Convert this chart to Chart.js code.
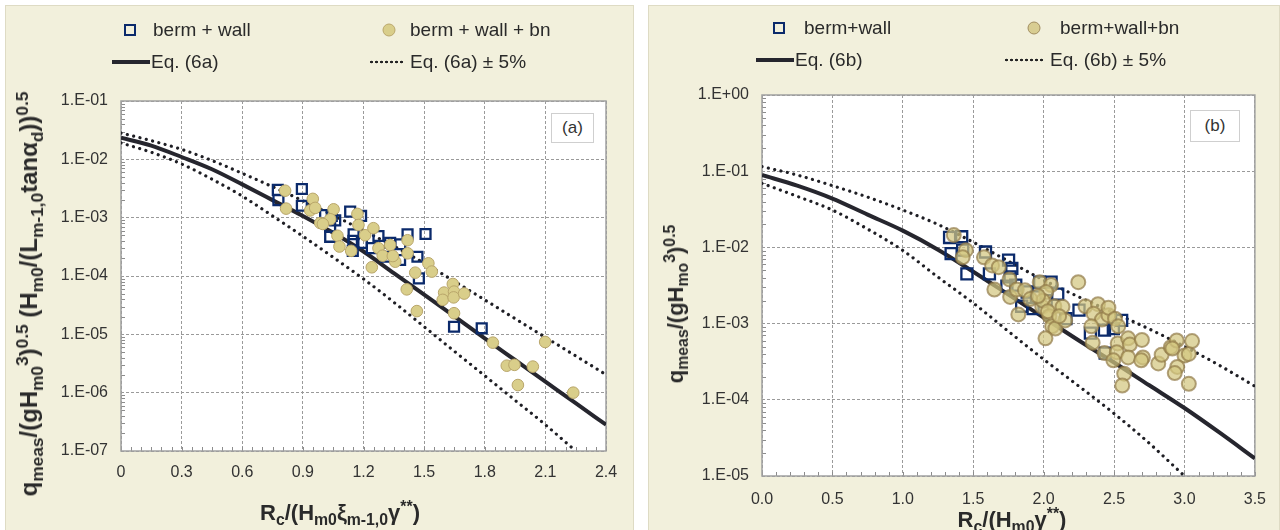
<!DOCTYPE html>
<html>
<head>
<meta charset="utf-8">
<script src="https://cdn.jsdelivr.net/npm/chart.js"></script>
<style>
body { margin: 0; width: 1280px; height: 530px; position: relative; overflow: hidden; background: #fff;
       font-family: "Liberation Sans", Arial, sans-serif; color: #2a2a2a; }
.panel { position: absolute; top: 5px; height: 530px; background: #f2f0dc; border: 1px solid #dedbc4; box-sizing: border-box; }
#pa { left: 5px; width: 629px; }
#pb { left: 648px; width: 632px; }
canvas { position: absolute; top: 0; }
#ca { left: 0; }
#cb { left: 640px; }
.leg { position: absolute; font-size: 19px; line-height: 20px; white-space: nowrap; transform: translateY(-50%); }
.sq { position: absolute; width: 8px; height: 8px; border: 2.5px solid #0b2a6b; transform: translate(-50%, -50%); }
.dot { position: absolute; border-radius: 50%; transform: translate(-50%, -50%); }
.ln { position: absolute; height: 0; transform: translateY(-50%); }
.dots { position: absolute; height: 4px; transform: translateY(-50%);
        background: radial-gradient(circle, #222 1.1px, rgba(0,0,0,0) 1.6px) repeat-x;
        background-size: 5px 4px; }
.tag { position: absolute; background: #fff; border: 1.5px solid #cfcfcf; font-size: 17px; color: #333;
       display: flex; align-items: center; justify-content: center; box-sizing: border-box; }
.ttl { position: absolute; font-weight: bold; font-size: 22px; white-space: nowrap; color: #2a2a2a;
       transform: translate(-50%, -50%); }
.rot { transform: translate(-50%, -50%) rotate(-90deg); }
.ttl sub, .ttl sup { font-size: 72%; line-height: 0; }
</style>
</head>
<body>
<div class="panel" id="pa"></div>
<div class="panel" id="pb"></div>
<canvas id="ca" width="640" height="530"></canvas>
<canvas id="cb" width="640" height="530"></canvas>

<!-- legend (a) -->
<div class="sq" style="left:130px;top:30px"></div>
<div class="leg" style="left:153px;top:30px">berm + wall</div>
<div class="dot" style="left:389px;top:30px;width:11px;height:11px;background:#d9ce8a;border:1px solid #b9a66a"></div>
<div class="leg" style="left:410px;top:30px">berm + wall + bn</div>
<div class="ln" style="left:112px;top:62px;width:38px;border-top:4px solid #26262e"></div>
<div class="leg" style="left:151px;top:62px">Eq. (6a)</div>
<div class="dots" style="left:369px;top:62px;width:35px"></div>
<div class="leg" style="left:410px;top:62px">Eq. (6a) ± 5%</div>

<!-- legend (b) -->
<div class="sq" style="left:779px;top:28px"></div>
<div class="leg" style="left:804px;top:28px">berm+wall</div>
<div class="dot" style="left:1034px;top:28px;width:11px;height:11px;background:#d8cd92;border:1.5px solid #a08c5e"></div>
<div class="leg" style="left:1060px;top:28px">berm+wall+bn</div>
<div class="ln" style="left:756px;top:60px;width:38px;border-top:4px solid #26262e"></div>
<div class="leg" style="left:795px;top:60px">Eq. (6b)</div>
<div class="dots" style="left:1004px;top:60px;width:40px"></div>
<div class="leg" style="left:1050px;top:60px">Eq. (6b) ± 5%</div>

<div class="tag" style="left:551px;top:113px;width:43px;height:30px">(a)</div>
<div class="tag" style="left:1190px;top:110px;width:50px;height:32px">(b)</div>

<div class="ttl rot" style="left:29px;top:294px;font-size:24px">q<sub>meas</sub>/(gH<sub>m0</sub><sup>3</sup>)<sup>0.5</sup> (H<sub>m0</sub>/(L<sub>m-1,0</sub>tanα<sub>d</sub>))<sup>0.5</sup></div>
<div class="ttl" style="left:340px;top:513px">R<sub>c</sub>/(H<sub>m0</sub>ξ<sub>m-1,0</sub>γ<sup>**</sup>)</div>
<div class="ttl rot" style="left:676px;top:304px">q<sub>meas</sub>/(gH<sub>mo</sub><sup>3</sup>)<sup>0.5</sup></div>
<div class="ttl" style="left:1012px;top:520px">R<sub>c</sub>/(H<sub>m0</sub>γ<sup>**</sup>)</div>

<script>
// ---- panel (a) ----
const aXTicks = [0, 0.3, 0.6, 0.9, 1.2, 1.5, 1.8, 2.1, 2.4];
const aXLabels = ['0', '0.3', '0.6', '0.9', '1.2', '1.5', '1.8', '2.1', '2.4'];
const aYTicks = [1e-7, 1e-6, 1e-5, 1e-4, 1e-3, 1e-2, 1e-1];

const aWallX = [0.776, 0.779, 0.895, 0.895, 1.010, 1.043, 1.035, 1.035, 1.134, 1.188, 1.151, 1.147,
                1.274, 1.241, 1.332, 1.312, 1.381, 1.418, 1.507, 1.467, 1.474, 1.648, 1.785,
                1.060, 1.150, 1.192, 1.382];
const aWallY = [3.0e-3, 2.0e-3, 3.1e-3, 1.6e-3, 1.11e-3, 1.07e-3, 7.0e-4, 4.7e-4, 1.27e-3, 1.07e-3, 5.2e-4, 2.7e-4,
                4.85e-4, 3.0e-4, 3.7e-4, 2.14e-4, 1.88e-4, 5.2e-4, 5.25e-4, 2.14e-4, 9.1e-5, 1.35e-5, 1.27e-5,
                9.0e-4, 4.0e-4, 3.7e-4, 3.5e-4];

const aBnX = [0.812, 0.817, 0.949, 0.936, 0.961, 0.986, 1.052, 1.035, 0.999, 1.071, 1.081, 1.139,
              1.170, 1.175, 1.208, 1.249, 1.274, 1.295, 1.332, 1.357, 1.345, 1.241, 1.418, 1.418,
              1.521, 1.538, 1.456, 1.414, 1.464, 1.642, 1.599, 1.648, 1.592, 1.646, 1.698, 1.648,
              1.840, 1.909, 1.947, 1.964, 2.038, 2.099, 2.238];
const aBnY = [2.9e-3, 1.43e-3, 2.1e-3, 1.33e-3, 1.47e-3, 8.1e-4, 1.39e-3, 9.4e-4, 7.8e-4, 4.9e-4, 3.2e-4, 2.7e-4,
              1.16e-3, 7.5e-4, 5.0e-4, 6.6e-4, 3.0e-4, 2.23e-4, 3.4e-4, 1.76e-4, 2.2e-4, 1.41e-4, 4.1e-4, 2.45e-4,
              1.65e-4, 1.19e-4, 1.14e-4, 5.9e-5, 2.5e-5, 7.3e-5, 5.2e-5, 5.4e-5, 3.9e-5, 4.3e-5, 5.0e-5, 2.3e-5,
              7.2e-6, 2.9e-6, 3.0e-6, 1.35e-6, 2.8e-6, 7.4e-6, 1.0e-6];

const aEqX = [0, 0.15, 0.3, 0.45, 0.6, 0.75, 0.9, 1.05, 1.2, 1.35, 1.5, 1.65, 1.8, 1.95, 2.1, 2.25, 2.4];
const aEq = [0.0235, 0.0172, 0.01096, 0.00676, 0.00372, 0.00200, 0.00107, 5.5e-4, 2.63e-4, 1.12e-4,
             4.79e-5, 2.04e-5, 8.5e-6, 3.63e-6, 1.55e-6, 6.6e-7, 2.82e-7];
const aEqHi = [0.0282, 0.0209, 0.0148, 0.00955, 0.00575, 0.00339, 0.00195, 0.0011, 6.0e-4, 3.24e-4,
               1.66e-4, 8.1e-5, 3.9e-5, 1.86e-5, 8.9e-6, 4.27e-6, 2.04e-6];
const aEqLo = [0.0191, 0.0132, 0.00832, 0.00457, 0.00234, 0.00107, 4.8e-4, 2.09e-4, 8.9e-5, 3.55e-5,
               1.35e-5, 5.1e-6, 1.95e-6, 7.4e-7, 2.82e-7, 1.0e-7];

// ---- panel (b) ----
const bXTicks = [0, 0.5, 1.0, 1.5, 2.0, 2.5, 3.0, 3.5];
const bXLabels = ['0.0', '0.5', '1.0', '1.5', '2.0', '2.5', '3.0', '3.5'];
const bYTicks = [1e-5, 1e-4, 1e-3, 1e-2, 1e-1, 1];

const bWallX = [1.332, 1.418, 1.343, 1.425, 1.455, 1.587, 1.615, 1.751, 1.774, 1.762, 1.739, 1.802, 1.844,
                1.925, 1.948, 1.972, 2.053, 2.100, 2.018, 1.883, 2.158, 2.251, 2.332, 2.432, 2.495, 2.554, 2.437];
const bWallY = [1.35e-2, 1.38e-2, 8.3e-3, 9.2e-3, 4.5e-3, 8.7e-3, 4.5e-3, 6.8e-3, 5.3e-3, 4.1e-3, 3.1e-3, 3.2e-3, 1.69e-3,
                1.57e-3, 2.24e-3, 3.5e-3, 3.5e-3, 2.43e-3, 2.0e-3, 2.6e-3, 1.16e-3, 1.5e-3, 7.5e-4, 8.2e-4, 8.6e-4, 1.1e-3, 4.1e-4];

const bBnX = [1.362, 1.448, 1.425, 1.576, 1.634, 1.681, 1.650, 1.757, 1.762, 1.809, 1.867, 1.820, 1.972, 2.053,
              2.246, 1.990, 2.018, 1.995, 2.076, 2.134, 2.041, 2.060, 2.083, 2.153, 2.013, 2.297, 2.386, 2.355,
              2.414, 2.460, 2.460, 2.507, 2.530, 2.339, 2.348, 2.432, 2.526, 2.519, 2.495, 2.600, 2.612, 2.600,
              2.705, 2.693, 2.698, 2.572, 2.558, 2.814, 2.838, 2.903, 2.945, 2.914, 3.000, 3.031, 2.949, 2.931,
              3.054, 3.031, 1.905, 2.030, 2.110, 1.960];
const bBnY = [1.45e-2, 9.2e-3, 7.4e-3, 7.4e-3, 5.8e-3, 5.5e-3, 2.8e-3, 3.8e-3, 2.24e-3, 2.8e-3, 2.74e-3, 1.32e-3, 3.5e-3, 3.2e-3,
              3.5e-3, 1.66e-3, 2.6e-3, 2.0e-3, 1.69e-3, 1.66e-3, 1.25e-3, 9.2e-4, 8.6e-4, 1.1e-3, 6.4e-4, 1.69e-3, 1.8e-3, 1.35e-3,
              1.13e-3, 1.29e-3, 1.62e-3, 1.16e-3, 9.2e-4, 9.2e-4, 5.6e-4, 4.1e-4, 5.5e-4, 4.2e-4, 3.3e-4, 6.4e-4, 5.3e-4, 3.6e-4,
              3.6e-4, 3.3e-4, 6.1e-4, 2.2e-4, 1.54e-4, 3.0e-4, 3.9e-4, 4.9e-4, 6.0e-4, 4.7e-4, 3.8e-4, 4.0e-4, 2.7e-4, 2.24e-4,
              5.9e-4, 1.62e-4, 2.1e-3, 1.45e-3, 1.25e-3, 2.3e-3];

const bEqX = [0, 0.25, 0.5, 0.75, 1.0, 1.25, 1.5, 1.75, 2.0, 2.25, 2.5, 2.75, 3.0, 3.25, 3.5];
const bEq = [0.0891, 0.0646, 0.0437, 0.0269, 0.0166, 0.00933, 0.00479, 0.0024, 0.0012, 6.0e-4, 3.09e-4,
             1.55e-4, 7.8e-5, 3.7e-5, 1.7e-5];
const bEqHi = [0.115, 0.0891, 0.0646, 0.0457, 0.0309, 0.02, 0.0117, 0.0066, 0.00372, 0.00224, 0.00138,
               8.5e-4, 5.0e-4, 2.82e-4, 1.51e-4];
const bEqLo = [0.0692, 0.0468, 0.0309, 0.0174, 0.00912, 0.00407, 0.00186, 7.9e-4, 3.39e-4, 1.51e-4, 6.6e-5,
               2.69e-5, 1.0e-5];

function pts(xs, ys) {
    const out = [];
    for (let i = 0; i < Math.min(xs.length, ys.length); i++) out.push({x: xs[i], y: ys[i]});
    return out;
}

function expLabel(v) {
    const e = Math.round(Math.log10(v));
    return '1.E' + (e < 0 ? '-' : '+') + String(Math.abs(e)).padStart(2, '0');
}

// white plot area, frame and the small inner ticks
const plotFrame = {
    id: 'plotFrame',
    beforeDraw(chart) {
        const a = chart.chartArea, ctx = chart.ctx;
        ctx.save();
        ctx.fillStyle = '#fff';
        ctx.fillRect(a.left, a.top, a.width, a.height);
        ctx.restore();
    },
    beforeDatasetsDraw(chart, args, opts) {
        const a = chart.chartArea, ctx = chart.ctx;
        const xs = chart.scales.x, ys = chart.scales.y;
        ctx.save();
        ctx.strokeStyle = '#8c8c8c';
        ctx.lineWidth = 1;
        ctx.beginPath();
        for (let e = Math.round(Math.log10(ys.min)); e < Math.round(Math.log10(ys.max)); e++) {
            for (let m = 2; m < 10; m++) {
                const y = Math.round(ys.getPixelForValue(m * Math.pow(10, e))) + 0.5;
                ctx.moveTo(a.left, y);
                ctx.lineTo(a.left + 4, y);
            }
        }
        for (let v = xs.min; v <= xs.max + 1e-9; v += opts.xMinor) {
            const x = Math.round(xs.getPixelForValue(v)) + 0.5;
            ctx.moveTo(x, a.bottom);
            ctx.lineTo(x, a.bottom - 4);
        }
        ctx.stroke();
        ctx.strokeStyle = '#a0a0a0';
        ctx.lineWidth = 1.5;
        ctx.strokeRect(a.left, a.top, a.width, a.height);
        ctx.restore();
    }
};

function makePanel(id, p) {
    return new Chart(document.getElementById(id), {
        type: 'scatter',
        data: {
            datasets: [
                {
                    label: p.wallLabel, data: pts(p.wallX, p.wallY), order: 1,
                    pointStyle: 'rect', pointRadius: p.sqR, borderColor: '#0b2a6b',
                    backgroundColor: 'rgba(0,0,0,0)', borderWidth: 2.3
                },
                {
                    label: p.bnLabel, data: pts(p.bnX, p.bnY), order: 0,
                    pointStyle: 'circle', pointRadius: p.dotR, borderColor: p.dotEdge,
                    backgroundColor: p.dotFill, borderWidth: p.dotW
                },
                {
                    label: p.eqLabel, data: pts(p.eqX, p.eq), order: 2, showLine: true,
                    pointRadius: 0, borderColor: '#26262e', borderWidth: 4,
                    cubicInterpolationMode: 'monotone'
                },
                {
                    label: p.eqLabel + ' ± 5%', data: pts(p.eqX, p.eqHi), order: 3, showLine: true,
                    pointRadius: 0, borderColor: '#1e1e24', borderWidth: 3.2, borderDash: [0.01, 6.5],
                    borderCapStyle: 'round', cubicInterpolationMode: 'monotone'
                },
                {
                    label: '', data: pts(p.eqX, p.eqLo), order: 3, showLine: true,
                    pointRadius: 0, borderColor: '#1e1e24', borderWidth: 3.2, borderDash: [0.01, 6.5],
                    borderCapStyle: 'round', cubicInterpolationMode: 'monotone'
                }
            ]
        },
        options: {
            responsive: false,
            animation: false,
            devicePixelRatio: 1,
            layout: { padding: { top: p.top, right: p.right, left: 0, bottom: 0 } },
            plugins: {
                legend: { display: false },
                tooltip: { enabled: false },
                plotFrame: { xMinor: p.xMinor }
            },
            scales: {
                x: {
                    type: 'linear', min: p.xTicks[0], max: p.xTicks[p.xTicks.length - 1],
                    afterFit: s => { s.height = p.xAxisH; },
                    afterBuildTicks: s => { s.ticks = p.xTicks.map(v => ({value: v})); },
                    ticks: {
                        padding: p.xPad, color: '#333', font: { family: 'Liberation Sans', size: 16 },
                        maxRotation: 0, callback: (v, i) => p.xLabels[i]
                    },
                    grid: { color: '#9a9a9a', lineWidth: 1, drawTicks: false },
                    border: { display: false, dash: [3, 2] }
                },
                y: {
                    type: 'logarithmic', min: p.yTicks[0], max: p.yTicks[p.yTicks.length - 1],
                    afterFit: s => { s.width = p.yAxisW; },
                    afterBuildTicks: s => { s.ticks = p.yTicks.map(v => ({value: v})); },
                    ticks: {
                        padding: 13, color: '#333', font: { family: 'Liberation Sans', size: 16 },
                        callback: v => expLabel(v)
                    },
                    grid: { color: '#9a9a9a', lineWidth: 1, drawTicks: false },
                    border: { display: false, dash: [3, 2] }
                }
            }
        },
        plugins: [plotFrame]
    });
}

makePanel('ca', {
    wallX: aWallX, wallY: aWallY, bnX: aBnX, bnY: aBnY,
    eqX: aEqX, eq: aEq, eqHi: aEqHi, eqLo: aEqLo,
    xTicks: aXTicks, xLabels: aXLabels, yTicks: aYTicks,
    wallLabel: 'berm + wall', bnLabel: 'berm + wall + bn', eqLabel: 'Eq. (6a)',
    sqR: 7, dotR: 5.8, dotFill: '#d9ce8a', dotEdge: '#b9a66a', dotW: 1,
    top: 101, right: 34, yAxisW: 121, xAxisH: 79, xPad: 12, xMinor: 0.05
});

makePanel('cb', {
    wallX: bWallX, wallY: bWallY, bnX: bBnX, bnY: bBnY,
    eqX: bEqX, eq: bEq, eqHi: bEqHi, eqLo: bEqLo,
    xTicks: bXTicks, xLabels: bXLabels, yTicks: bYTicks,
    wallLabel: 'berm+wall', bnLabel: 'berm+wall+bn', eqLabel: 'Eq. (6b)',
    sqR: 7.8, dotR: 7, dotFill: 'rgba(210,198,128,0.72)', dotEdge: 'rgba(145,122,72,0.7)', dotW: 2,
    top: 95, right: 18, yAxisW: 122, xAxisH: 54, xPad: 14, xMinor: 0.1
});
</script>
</body>
</html>
